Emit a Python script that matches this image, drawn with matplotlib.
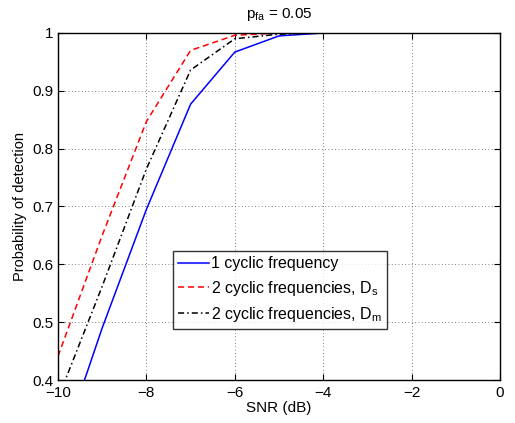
import matplotlib

matplotlib.use("Agg")

import matplotlib.pyplot as plt

plt.rcParams["font.family"] = ["Liberation Sans", "DejaVu Sans"]
plt.rcParams["mathtext.default"] = "regular"

SNR_DB = [-10, -9, -8, -7, -6, -5, -4, -3, -2, -1, 0]
PD_ONE = [0.265, 0.490, 0.695, 0.877, 0.967, 0.995, 1.0, 1.0, 1.0, 1.0, 1.0]
PD_DS = [0.441, 0.650, 0.847, 0.970, 0.996, 1.0, 1.0, 1.0, 1.0, 1.0, 1.0]
PD_DM = [0.368, 0.562, 0.765, 0.936, 0.990, 0.998, 1.0, 1.0, 1.0, 1.0, 1.0]

LABELS = [
    "1 cyclic frequency",
    "2 cyclic frequencies, $D_s$",
    "2 cyclic frequencies, $D_m$",
]


def main() -> None:
    fig = plt.figure(figsize=(5.15, 4.23), dpi=100)
    ax = fig.add_axes([58 / 515, 1 - 380 / 423, 442 / 515, 347 / 423])

    ax.plot(SNR_DB, PD_ONE, color="#0000ff", linestyle="-", lw=1.1, label=LABELS[0])
    ax.plot(SNR_DB, PD_DS, color="#ff0000", linestyle=(0, (4, 2.5)), lw=1.1, label=LABELS[1])
    ax.plot(SNR_DB, PD_DM, color="black", linestyle=(0, (4, 2, 1, 2)), lw=1.1, label=LABELS[2])

    ax.set_xlim(-10, 0)
    ax.set_ylim(0.4, 1.0)
    ax.set_xticks([-10, -8, -6, -4, -2, 0])
    ax.set_yticks([0.4, 0.5, 0.6, 0.7, 0.8, 0.9, 1.0])
    ax.set_yticklabels(["0.4", "0.5", "0.6", "0.7", "0.8", "0.9", "1"])
    ax.tick_params(direction="in", top=True, right=True, labelsize=11, length=4)
    ax.tick_params(axis="x", pad=4)
    ax.tick_params(axis="y", pad=3)
    ax.grid(True, linestyle=(0, (1, 3)), color="#555555", lw=0.6)
    for spine in ax.spines.values():
        spine.set_linewidth(1.0)

    ax.set_xlabel("SNR (dB)", fontsize=11, labelpad=1)
    ax.set_ylabel("Probability of detection", fontsize=10.5, labelpad=4)
    ax.set_title("$p_{fa}$ = 0.05", fontsize=11, pad=11)

    leg = ax.legend(
        loc="lower left",
        bbox_to_anchor=(0.2595, 0.146),
        borderaxespad=0,
        fontsize=11.5,
        frameon=True,
        fancybox=False,
        handlelength=1.9,
        handletextpad=0.15,
        labelspacing=0.45,
        borderpad=0.35,
    )
    leg.get_frame().set_edgecolor("black")
    leg.get_frame().set_linewidth(1.0)

    fig.savefig("out.png", dpi=100)


if __name__ == "__main__":
    main()
